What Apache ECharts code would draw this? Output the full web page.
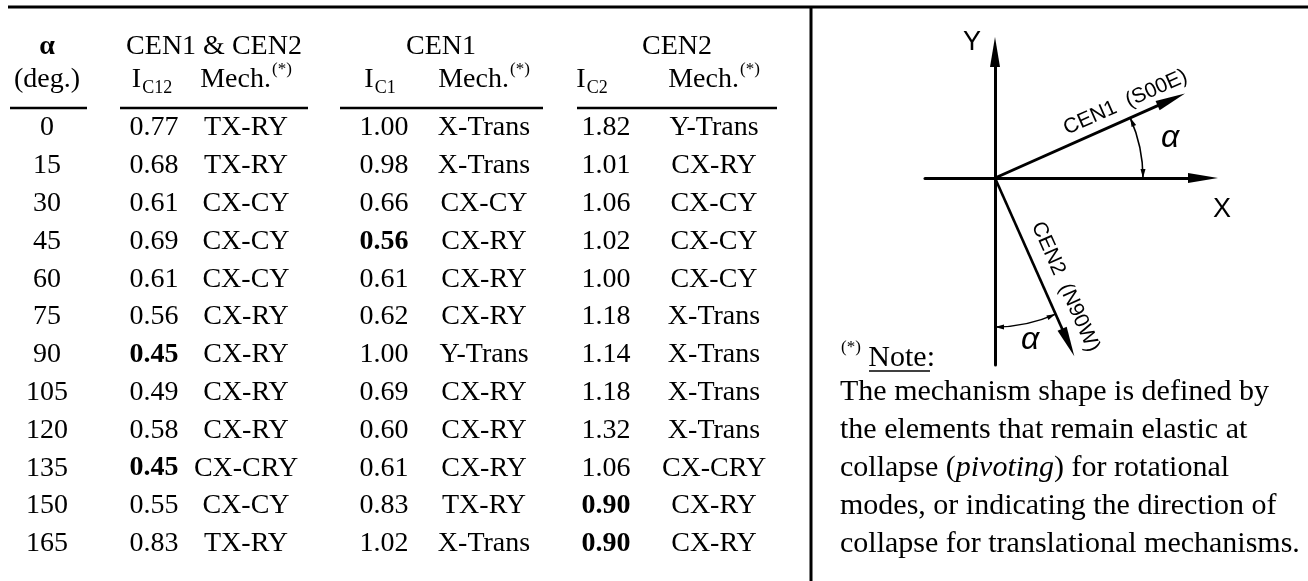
<!DOCTYPE html>
<html><head><meta charset="utf-8">
<script src="https://cdn.jsdelivr.net/npm/echarts@6/dist/echarts.min.js"></script>
<style>html,body{margin:0;padding:0;background:#fff}#c{width:1308px;height:581px}</style>
</head><body><div id="c"></div>
<script>
// ---------------- data ----------------
const alphaDeg = [0, 15, 30, 45, 60, 75, 90, 105, 120, 135, 150, 165];
const ic12  = [0.77, 0.68, 0.61, 0.69, 0.61, 0.56, 0.45, 0.49, 0.58, 0.45, 0.55, 0.83];
const mech12 = ['TX-RY','TX-RY','CX-CY','CX-CY','CX-CY','CX-RY','CX-RY','CX-RY','CX-RY','CX-CRY','CX-CY','TX-RY'];
const ic1   = [1.00, 0.98, 0.66, 0.56, 0.61, 0.62, 1.00, 0.69, 0.60, 0.61, 0.83, 1.02];
const mech1 = ['X-Trans','X-Trans','CX-CY','CX-RY','CX-RY','CX-RY','Y-Trans','CX-RY','CX-RY','CX-RY','TX-RY','X-Trans'];
const ic2   = [1.82, 1.01, 1.06, 1.02, 1.00, 1.18, 1.14, 1.18, 1.32, 1.06, 0.90, 0.90];
const mech2 = ['Y-Trans','CX-RY','CX-CY','CX-CY','CX-CY','X-Trans','X-Trans','X-Trans','X-Trans','CX-CRY','CX-RY','CX-RY'];
const groupTitles = ['CEN1 & CEN2', 'CEN1', 'CEN2'];
const subHeads = ['{m|I}{s|C12}', '{m|Mech.}{p|(*)}', '{m|I}{s|C1}', '{m|Mech.}{p|(*)}', '{m|I}{s|C2}', '{m|Mech.}{p|(*)}'];
const noteTitle = '{p|(*)}{n| }{n|Note}{n|:}';
const noteLines = [
  'The mechanism shape is defined by',
  'the elements that remain elastic at',
  '{n|collapse (}{i|pivoting}{n|) for rotational}',
  'modes, or indicating the direction of',
  'collapse for translational mechanisms.'
];
const sketchLabels = { cen1: 'CEN1  (S00E)', cen2: 'CEN2  (N90W)', x: 'X', y: 'Y', angle: 'α' };
const sketchAlpha = 24;          // angle drawn in the sketch (deg)

// ---------------- layout ----------------
const W = 1308, H = 581;
const ROW0 = 128, ROWH = 37.8;
const rowOf = px => (px - ROW0) / ROWH;
const SERIF = "'Liberation Serif','Times New Roman',serif";
const SANS = "'Liberation Sans',Arial,sans-serif";
const FS = 28, NOTE_FS = 30;
const colX = [47, 154, 246, 384, 484, 606, 714];
const groupX = [214, 441, 677];
const NOTE_X = 840;

const rich = {
  m: { fontFamily: SERIF, fontSize: FS },
  s: { fontFamily: SERIF, fontSize: 18, padding: [16, 0, 0, 1] },
  p: { fontFamily: SERIF, fontSize: 17, padding: [0, 0, 20, 1] },
  n: { fontFamily: SERIF, fontSize: NOTE_FS },
  i: { fontFamily: SERIF, fontSize: NOTE_FS, fontStyle: 'italic' }
};

const cells = [];
const columns = [
  { vals: alphaDeg, num: false },
  { vals: ic12, num: true }, { vals: mech12 },
  { vals: ic1, num: true }, { vals: mech1 },
  { vals: ic2, num: true }, { vals: mech2 }
];
columns.forEach((c, k) => {
  const mn = c.num ? Math.min(...c.vals) : null;
  c.vals.forEach((v, i) => cells.push({
    x: colX[k], row: i,
    text: c.num ? v.toFixed(2) : String(v),
    bold: c.num && v === mn
  }));
});
cells.push({ x: colX[0], row: rowOf(47), text: 'α', bold: true });
groupTitles.forEach((t, k) => cells.push({ x: groupX[k], row: rowOf(47), text: t }));
cells.push({ x: colX[0], row: rowOf(80), text: '(deg.)' });
const subX = [152, 246, 380, 484, 592, 714];
subHeads.forEach((t, k) => cells.push({ x: subX[k], row: rowOf(80), text: t, rich: true }));
cells.push({ x: NOTE_X, row: rowOf(358), text: noteTitle, rich: true, align: 'left' });
noteLines.forEach((t, k) => cells.push({ x: NOTE_X, row: 7 + k, text: t, rich: t.indexOf('{') >= 0, align: 'left', size: NOTE_FS }));

// rules: [x1, ypx1, x2, ypx2, width]
const rules = [
  [8, 7, W, 7, 3],
  [811, 7, 811, H, 3],
  [10, 108, 87, 108, 2.5],
  [120, 108, 308, 108, 2.5],
  [340, 108, 543, 108, 2.5],
  [577, 108, 777, 108, 2.5],
  [869, 371, 930, 371, 1.5]
];

// ---------------- sketch helpers ----------------
function head(tip, dir, L, Wd) {
  const bx = tip[0] - dir[0] * L, by = tip[1] - dir[1] * L;
  const nx = -dir[1], ny = dir[0];
  return { type: 'polygon', shape: { points: [tip, [bx + nx * Wd / 2, by + ny * Wd / 2], [bx - nx * Wd / 2, by - ny * Wd / 2]] }, style: { fill: '#000' } };
}
function unit(a, b) { const dx = b[0] - a[0], dy = b[1] - a[1], l = Math.hypot(dx, dy); return [dx / l, dy / l]; }

function renderSketch(params, api) {
  const a = sketchAlpha * Math.PI / 180;
  const o = api.coord([0, 0]);
  const ch = [];
  const vec = [
    { tip: api.coord([208 * Math.cos(a), 208 * Math.sin(a)]), w: 3, label: sketchLabels.cen1, along: 150, off: 16 },
    { tip: api.coord([195 * Math.sin(a), -195 * Math.cos(a)]), w: 2.6, label: sketchLabels.cen2, along: 128, off: 20 }
  ];
  vec.forEach(v => {
    const d = unit(o, v.tip);
    ch.push({ type: 'line', shape: { x1: o[0], y1: o[1], x2: v.tip[0] - d[0] * 20, y2: v.tip[1] - d[1] * 20 }, style: { stroke: '#000', lineWidth: v.w } });
    ch.push(head(v.tip, d, 30, 10));
    const up = [d[1], -d[0]];
    ch.push({ type: 'text', x: o[0] + d[0] * v.along + up[0] * v.off, y: o[1] + d[1] * v.along + up[1] * v.off,
      rotation: -Math.atan2(d[1], d[0]),
      style: { text: v.label, fontFamily: SANS, fontSize: 21, fill: '#000', align: 'center', verticalAlign: 'middle' } });
  });
  // angle arcs
  const arcs = [
    { r: 148, s: -a, e: 0 },
    { r: 149, s: Math.PI / 2 - a, e: Math.PI / 2 }
  ];
  arcs.forEach(c => {
    ch.push({ type: 'arc', shape: { cx: o[0], cy: o[1], r: c.r, startAngle: c.s, endAngle: c.e, clockwise: true }, style: { stroke: '#000', lineWidth: 1.6, fill: null } });
    const pe = [o[0] + c.r * Math.cos(c.e), o[1] + c.r * Math.sin(c.e)];
    ch.push(head(pe, [-Math.sin(c.e), Math.cos(c.e)], 9, 5));
    const ps = [o[0] + c.r * Math.cos(c.s), o[1] + c.r * Math.sin(c.s)];
    ch.push(head(ps, [Math.sin(c.s), -Math.cos(c.s)], 9, 5));
  });
  const txt = (p, t, size, italic) => {
    const q = api.coord(p);
    ch.push({ type: 'text', x: q[0], y: q[1], style: { text: t, fontFamily: SANS, fontSize: size, fontStyle: italic ? 'italic' : 'normal', fill: '#000', align: 'center', verticalAlign: 'middle' } });
  };
  txt([-23, 135], sketchLabels.y, 27);
  txt([227, -32], sketchLabels.x, 27);
  txt([175, 40], sketchLabels.angle, 32, true);
  txt([35, -162], sketchLabels.angle, 32, true);
  return { type: 'group', children: ch };
}

const chart = echarts.init(document.getElementById('c'), null, { renderer: 'canvas' });
const axisArrow = { show: true, onZero: true, symbol: ['none', 'triangle'], symbolSize: [10, 30], lineStyle: { color: '#000', width: 3 } };
chart.setOption({
  animation: false,
  backgroundColor: '#fff',
  grid: [
    { left: 0, top: 0, width: W, height: H },
    { left: 925, top: 52, width: 278, height: 313 }
  ],
  xAxis: [
    { type: 'value', gridIndex: 0, min: 0, max: W, show: false },
    { type: 'value', gridIndex: 1, min: -70, max: 208, axisLine: axisArrow, axisTick: { show: false }, axisLabel: { show: false }, splitLine: { show: false } }
  ],
  yAxis: [
    { type: 'value', gridIndex: 0, min: rowOf(0), max: rowOf(H), inverse: true, show: false },
    { type: 'value', gridIndex: 1, min: -187, max: 126, axisLine: axisArrow, axisTick: { show: false }, axisLabel: { show: false }, splitLine: { show: false } }
  ],
  series: [
    {
      type: 'custom', xAxisIndex: 0, yAxisIndex: 0, silent: true,
      data: rules.map(r => [r[0], rowOf(r[1]), r[2], rowOf(r[3]), r[4]]),
      renderItem: (params, api) => {
        const p1 = api.coord([api.value(0), api.value(1)]);
        const p2 = api.coord([api.value(2), api.value(3)]);
        return { type: 'line', shape: { x1: p1[0], y1: p1[1], x2: p2[0], y2: p2[1] }, style: { stroke: '#000', lineWidth: api.value(4) } };
      }
    },
    {
      type: 'custom', xAxisIndex: 0, yAxisIndex: 0, silent: true,
      data: cells.map(c => [c.x, c.row]),
      renderItem: (params, api) => {
        const c = cells[params.dataIndex];
        const p = api.coord([api.value(0), api.value(1)]);
        return {
          type: 'text', x: p[0], y: p[1],
          style: {
            text: c.text, fontFamily: SERIF, fontSize: c.size || FS,
            fontWeight: c.bold ? 'bold' : 'normal', fill: '#000',
            align: c.align || 'center', verticalAlign: 'middle',
            rich: c.rich ? rich : undefined
          }
        };
      }
    },
    {
      type: 'custom', xAxisIndex: 1, yAxisIndex: 1, silent: true,
      data: [[0, 0]],
      renderItem: renderSketch
    }
  ]
});
</script></body></html>
